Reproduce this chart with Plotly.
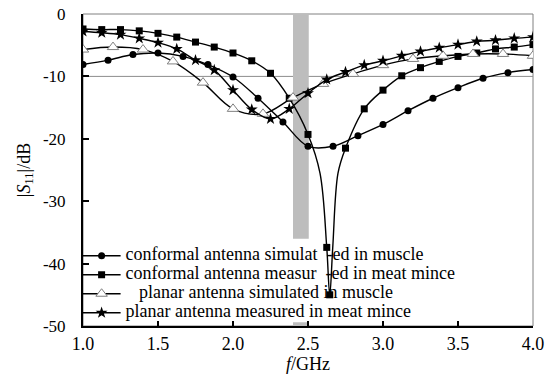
import plotly.graph_objects as go

# ---------------- data ----------------
# conformal antenna simulated in muscle (circles)
cs_x = [1.0, 1.167, 1.333, 1.5, 1.667, 1.833, 2.0, 2.167, 2.333, 2.5, 2.667, 2.833,
        3.0, 3.167, 3.333, 3.5, 3.667, 3.833, 4.0]
cs_y = [-8.1, -7.4, -6.5, -6.25, -6.8, -8.1, -10.1, -13.5, -17.3, -21.2, -21.2, -19.5,
        -17.7, -15.5, -13.5, -11.8, -10.3, -9.4, -8.9]

# conformal antenna measured in meat mince (squares)
cm_x = [1.0, 1.125, 1.25, 1.375, 1.5, 1.625, 1.75, 1.875, 2.0, 2.125, 2.25, 2.375, 2.5,
        2.625, 2.645, 2.75, 2.875, 3.0, 3.125, 3.25, 3.375, 3.5, 3.625, 3.75, 3.875, 4.0]
cm_y = [-2.4, -2.5, -2.5, -2.7, -3.1, -3.7, -4.5, -5.3, -6.25, -7.5, -9.5, -13.5, -19.3,
        -37.4, -45.0, -21.5, -15.2, -12.2, -9.9, -8.6, -7.6, -6.8, -6.25, -5.6, -5.3, -4.9]
# extra (unmarked) samples describing the narrow resonance dip
cm_dip_x = [2.58, 2.665, 2.70]
cm_dip_y = [-25.5, -37.4, -25.5]

# planar antenna simulated in muscle (open triangles)
ps_x = [1.0, 1.2, 1.4, 1.6, 1.8, 2.0, 2.2, 2.4, 2.6, 2.8, 3.0, 3.2, 3.4, 3.6, 3.8, 4.0]
ps_y = [-5.7, -5.3, -5.7, -7.6, -11.0, -15.2, -16.0, -13.4, -11.2, -9.6, -8.2, -7.2,
        -6.7, -6.4, -6.4, -6.7]

# planar antenna measured in meat mince (stars)
pm_x = [1.0, 1.125, 1.25, 1.375, 1.5, 1.625, 1.75, 1.875, 2.0, 2.125, 2.25, 2.375, 2.5,
        2.625, 2.75, 2.875, 3.0, 3.125, 3.25, 3.375, 3.5, 3.625, 3.75, 3.875, 4.0]
pm_y = [-2.8, -3.0, -3.3, -3.9, -4.6, -5.6, -7.4, -9.0, -12.2, -15.3, -16.8, -15.2, -12.7,
        -10.5, -9.3, -8.2, -7.5, -6.7, -6.0, -5.4, -4.9, -4.4, -4.2, -3.9, -3.7]

names = ["conformal antenna simulat\u00a0\u00a0-ed in muscle",
         "conformal antenna measur\u00a0\u00a0-ed in meat mince",
         "\u00a0\u00a0\u00a0planar antenna simulated in muscle",
         "planar antenna measured in meat mince"]

x_ticks = [1.0, 1.5, 2.0, 2.5, 3.0, 3.5, 4.0]
y_ticks = [0, -10, -20, -30, -40, -50]
band = [2.40, 2.505]          # ISM band highlight
ref_level = -10               # -10 dB reference line
legend_gap = [-36.0, -49.4]   # band hidden behind legend background

FONT = "Liberation Serif"

fig = go.Figure()

# merge the measured conformal curve with its dip samples
pairs = sorted([(x, y, True) for x, y in zip(cm_x, cm_y)] +
               [(x, y, False) for x, y in zip(cm_dip_x, cm_dip_y)])
cmx = [p[0] for p in pairs]
cmy = [p[1] for p in pairs]
cm_col = ["black" if p[2] else "rgba(0,0,0,0)" for p in pairs]

line = dict(color="black", width=1.4, shape="spline", smoothing=1.0)


def lg(name):
    return f'<span style="font-size:18px">{name}</span>'


fig.add_trace(go.Scatter(x=cs_x, y=cs_y, mode="lines+markers", name=lg(names[0]),
                         line=line,
                         marker=dict(symbol="circle", size=7, color="black")))
fig.add_trace(go.Scatter(x=cmx, y=cmy, mode="lines+markers", name=lg(names[1]),
                         line=line,
                         marker=dict(symbol="square", size=7, color=cm_col,
                                     line=dict(width=0))))
fig.add_trace(go.Scatter(x=ps_x, y=ps_y, mode="lines+markers", name=lg(names[2]),
                         line=line,
                         marker=dict(symbol="triangle-up", size=10, color="white",
                                     line=dict(color="#808080", width=1))))
fig.add_trace(go.Scatter(x=pm_x, y=pm_y, mode="lines+markers", name=lg(names[3]),
                         line=line,
                         marker=dict(symbol="star", size=9, color="black")))

shapes = [
    # thin frame (top / right)
    dict(type="rect", xref="paper", yref="paper", x0=0, x1=1, y0=0, y1=1,
         line=dict(color="#808080", width=1), layer="below"),
    # gray band (split by legend background)
    dict(type="rect", xref="x", yref="y", x0=band[0], x1=band[1], y0=legend_gap[0], y1=0,
         fillcolor="#bdbdbd", line=dict(width=0), layer="below"),
    dict(type="rect", xref="x", yref="y", x0=band[0], x1=band[1], y0=-50, y1=legend_gap[1],
         fillcolor="#bdbdbd", line=dict(width=0), layer="below"),
    # -10 dB line
    dict(type="line", xref="paper", yref="y", x0=0, x1=1, y0=ref_level, y1=ref_level,
         line=dict(color="#8c8c8c", width=1), layer="below"),
]

fig.update_layout(
    template="none",
    width=552, height=374,
    margin=dict(l=83, r=19, t=14, b=48, autoexpand=False),
    paper_bgcolor="white", plot_bgcolor="white",
    font=dict(family=FONT, size=17, color="black"),
    shapes=shapes,
    showlegend=True,
    legend=dict(x=-0.012, y=-0.004, xanchor="left", yanchor="bottom",
                bgcolor="rgba(0,0,0,0)", borderwidth=0,
                font=dict(family=FONT, size=12, color="black"),
                itemwidth=38, tracegroupgap=0),
    xaxis=dict(range=[1.0, 4.0], tickvals=x_ticks,
               ticktext=[f"{v:.1f}" for v in x_ticks],
               automargin=False,
               showgrid=False, zeroline=False,
               showline=True, linecolor="black", linewidth=2,
               ticks="inside", ticklen=5, tickwidth=2, tickcolor="black",
               tickfont=dict(family=FONT, size=18),
               ticklabelstandoff=0,
               title=dict(text="<i>f</i>/GHz", font=dict(family=FONT, size=18), standoff=0)),
    yaxis=dict(range=[-50, 0], tickvals=y_ticks,
               ticktext=[str(v) for v in y_ticks],
               automargin=False,
               showgrid=False, zeroline=False,
               showline=True, linecolor="black", linewidth=2,
               ticks="inside", ticklen=6, tickwidth=2, tickcolor="black",
               tickfont=dict(family=FONT, size=17),
               ticklabelstandoff=12,
               title=dict(text="|<i>S</i><sub>11</sub>|/dB", font=dict(family=FONT, size=18),
                          standoff=8)),
)

fig.write_html("out.html", config={"displayModeBar": False},
               post_script="document.body.style.margin='0';")
